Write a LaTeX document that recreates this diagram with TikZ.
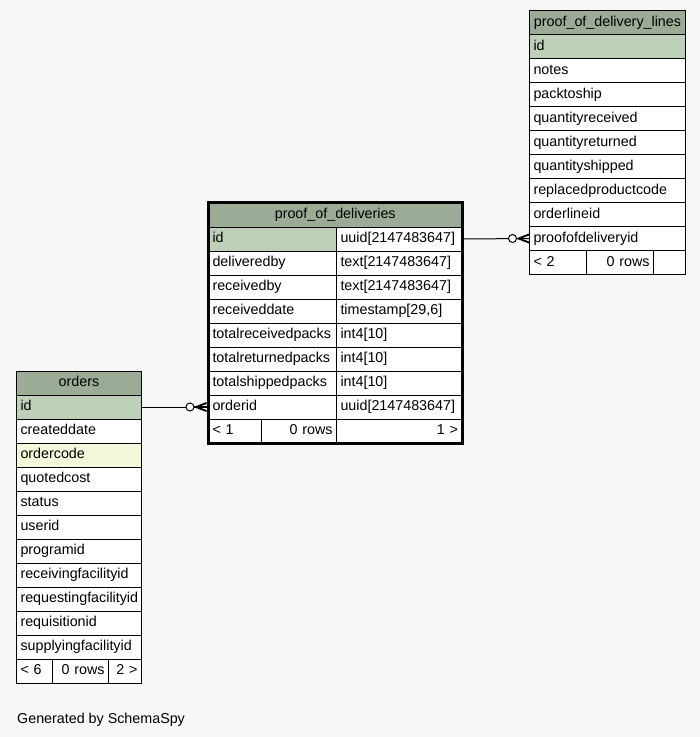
\documentclass[tikz,border=0pt]{standalone}
\usepackage{fontspec}
\setmainfont{Liberation Sans}
\definecolor{bgc}{HTML}{F7F7F7}
\definecolor{hdr}{HTML}{9BAB96}
\definecolor{pkc}{HTML}{BED1B8}
\definecolor{idxc}{HTML}{F4F7DA}
\newcommand\crowodot[1]{%
  \draw[line width=1pt,fill=white] ([xshift=-16.5pt]#1) circle (4pt);
  \fill ([xshift=-13pt]#1) -- ([yshift=5pt]#1) -- ([yshift=3pt]#1) -- ([xshift=-8pt]#1) -- ([yshift=-3pt]#1) -- ([yshift=-5pt]#1) -- cycle;
  \draw[line width=1.2pt] ([xshift=-13pt]#1) -- (#1);
}
\tikzset{
  cell/.style={draw=black, line width=1pt, rectangle, anchor=north west, inner xsep=4pt, inner ysep=0pt,
    minimum height=24pt, text height=10pt, text depth=3pt, align=left, fill=white, text width=#1},
  rcell/.style={cell=#1, align=right},
  head/.style={cell=#1, fill=hdr, align=center},
  pk/.style={cell=#1, fill=pkc},
  idx/.style={cell=#1, fill=idxc},
  conn/.style={line width=1pt, draw=black},
}
\begin{document}
\begin{tikzpicture}[x=1pt,y=-1pt,font=\fontsize{14.3}{16}\selectfont]
\fill[bgc] (0,0) rectangle (700,737);
\useasboundingbox (0,0) rectangle (700,737);
% proof_of_delivery_lines
\node[head=148pt] (podl-h) at (529,10) {proof\_of\_delivery\_lines};
\node[pk=148pt] (podl-id) at (529,34) {id};
\node[cell=148pt] (podl-notes) at (529,58) {notes};
\node[cell=148pt] (podl-pack) at (529,82) {packtoship};
\node[cell=148pt] (podl-qrec) at (529,106) {quantityreceived};
\node[cell=148pt] (podl-qret) at (529,130) {quantityreturned};
\node[cell=148pt] (podl-qsh) at (529,154) {quantityshipped};
\node[cell=148pt] (podl-rpc) at (529,178) {replacedproductcode};
\node[cell=148pt] (podl-ol) at (529,202) {orderlineid};
\node[cell=148pt] (podl-pod) at (529,226) {proofofdeliveryid};
\node[cell=49pt] (podl-f1) at (529,250) {< 2};
\node[rcell=59pt] (podl-f2) at (586,250) {0 rows};
\node[cell=24pt] (podl-f3) at (653,250) {};
% proof_of_deliveries
\node[head=245.5pt] (pod-h) at (208,202.5) {proof\_of\_deliveries};
\node[pk=120pt] (pod-id) at (208,226.5) {id};
\node[cell=117.5pt] (pod-id-t) at (336,226.5) {uuid[2147483647]};
\node[cell=120pt] (pod-db) at (208,250.5) {deliveredby};
\node[cell=117.5pt] (pod-db-t) at (336,250.5) {text[2147483647]};
\node[cell=120pt] (pod-rb) at (208,274.5) {receivedby};
\node[cell=117.5pt] (pod-rb-t) at (336,274.5) {text[2147483647]};
\node[cell=120pt] (pod-rd) at (208,298.5) {receiveddate};
\node[cell=117.5pt] (pod-rd-t) at (336,298.5) {timestamp[29,6]};
\node[cell=120pt] (pod-trp) at (208,322.5) {totalreceivedpacks};
\node[cell=117.5pt] (pod-trp-t) at (336,322.5) {int4[10]};
\node[cell=120pt] (pod-tret) at (208,346.5) {totalreturnedpacks};
\node[cell=117.5pt] (pod-tret-t) at (336,346.5) {int4[10]};
\node[cell=120pt] (pod-tsp) at (208,370.5) {totalshippedpacks};
\node[cell=117.5pt] (pod-tsp-t) at (336,370.5) {int4[10]};
\node[cell=120pt] (pod-oid) at (208,394.5) {orderid};
\node[cell=117.5pt] (pod-oid-t) at (336,394.5) {uuid[2147483647]};
\node[cell=45pt] (pod-f1) at (208,418.5) {< 1};
\node[rcell=67pt] (pod-f2) at (261,418.5) {0 rows};
\node[rcell=117.5pt] (pod-f3) at (336,418.5) {1 >};
\draw[line width=3pt] (pod-h.north west) rectangle (pod-f3.south east);
% orders
\node[head=117pt] (ord-h) at (16,370.5) {orders};
\node[pk=117pt] (ord-id) at (16,394.5) {id};
\node[cell=117pt] (ord-cd) at (16,418.5) {createddate};
\node[idx=117pt] (ord-oc) at (16,442.5) {ordercode};
\node[cell=117pt] (ord-qc) at (16,466.5) {quotedcost};
\node[cell=117pt] (ord-st) at (16,490.5) {status};
\node[cell=117pt] (ord-uid) at (16,514.5) {userid};
\node[cell=117pt] (ord-pid) at (16,538.5) {programid};
\node[cell=117pt] (ord-rfi) at (16,562.5) {receivingfacilityid};
\node[cell=117pt] (ord-rqfi) at (16,586.5) {requestingfacilityid};
\node[cell=117pt] (ord-req) at (16,610.5) {requisitionid};
\node[cell=117pt] (ord-sfi) at (16,634.5) {supplyingfacilityid};
\node[cell=28pt] (ord-f1) at (16,658.5) {< 6};
\node[rcell=48pt] (ord-f2) at (52,658.5) {0 rows};
\node[rcell=25pt] (ord-f3) at (108,658.5) {2 >};
% connectors
\coordinate (pod-oid-in) at ([xshift=-1.5pt]pod-oid.west);
\draw[conn] (pod-id-t.east) -- (podl-pod.west);
\crowodot{podl-pod.west}
\draw[conn] (ord-id.east) -- (pod-oid-in);
\crowodot{pod-oid-in}
% footer
\node[anchor=base west, inner sep=0pt] (gen) at (17,723) {Generated by SchemaSpy};
\end{tikzpicture}
\end{document}
